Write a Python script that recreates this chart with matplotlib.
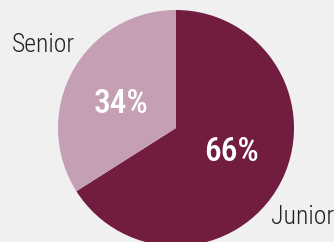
import matplotlib
matplotlib.use("Agg")
import matplotlib.pyplot as plt

categories = ["Junior", "Senior"]
values = [66, 34]
colors = ["#721c40", "#c59fb4"]

fam = ["Roboto Condensed", "DejaVu Sans"]

W, H = 334, 242
fig = plt.figure(figsize=(W / 100, H / 100), dpi=100, facecolor="#f0f0f0")
ax = fig.add_axes([0, 0, 1, 1])
ax.set_facecolor("#f0f0f0")
cx, cy, r = 176, H - 128, 118
wedges, texts, autotexts = ax.pie(
    values, labels=categories, colors=colors, startangle=90, counterclock=False,
    center=(cx, cy), radius=r, autopct="%d%%", pctdistance=0.51, labeldistance=1.32,
    textprops=dict(family=fam),
)
ax.set_xlim(0, W)
ax.set_ylim(0, H)
ax.set_aspect("equal")
ax.axis("off")

label_pos = {"Junior": (303, H - 217), "Senior": (43, H - 45)}
pct_pos = {"Junior": (231, H - 152), "Senior": (121, H - 104)}
for t, a, c in zip(texts, autotexts, categories):
    t.set_position(label_pos[c])
    t.set_ha("center"); t.set_va("center")
    t.set_fontsize(18.5); t.set_color("#222222"); t.set_fontweight("light")
    a.set_position(pct_pos[c])
    a.set_ha("center"); a.set_va("center")
    a.set_fontsize(24); a.set_color("white"); a.set_fontweight("medium")

fig.savefig("out.png", dpi=100, facecolor=fig.get_facecolor())
